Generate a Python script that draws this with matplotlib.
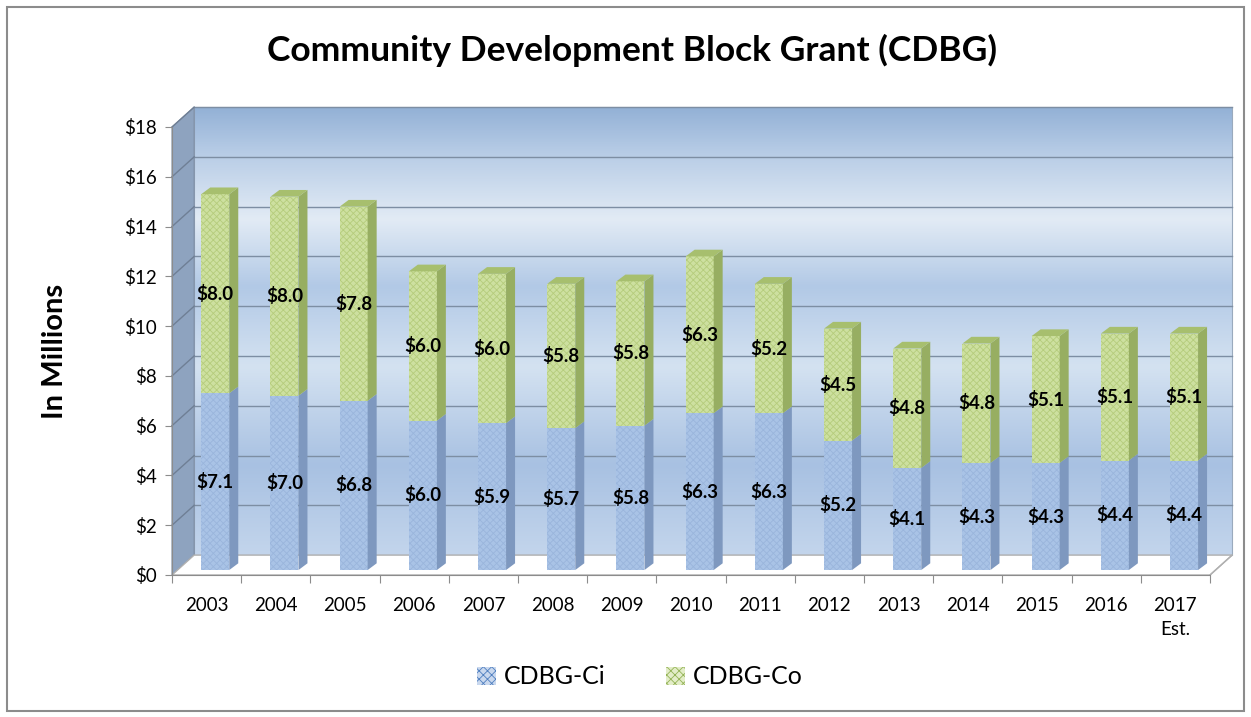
import matplotlib.pyplot as plt
import matplotlib.patches as mpatches
from matplotlib.colors import LinearSegmentedColormap
import numpy as np

plt.rcParams['font.family'] = ['Lato', 'DejaVu Sans']
plt.rcParams['hatch.linewidth'] = 0.6

# data (in millions)
years = ["2003", "2004", "2005", "2006", "2007", "2008", "2009", "2010",
         "2011", "2012", "2013", "2014", "2015", "2016", "2017\nEst."]
ci = [7.1, 7.0, 6.8, 6.0, 5.9, 5.7, 5.8, 6.3, 6.3, 5.2, 4.1, 4.3, 4.3, 4.4, 4.4]
co = [8.0, 8.0, 7.8, 6.0, 6.0, 5.8, 5.8, 6.3, 5.2, 4.5, 4.8, 4.8, 5.1, 5.1, 5.1]
yticks = [0, 2, 4, 6, 8, 10, 12, 14, 16, 18]

n = len(years)
W, H = 1251, 717
fig = plt.figure(figsize=(W / 100, H / 100), dpi=100)
fig.patches.append(mpatches.Rectangle((7 / W, 6 / H), 1 - 14 / W, 1 - 13 / H,
                                      transform=fig.transFigure, fill=False,
                                      edgecolor='#8c8c8c', linewidth=1.5))

ax = fig.add_axes([172 / W, (H - 575) / H, (1210 - 172) / W, (575 - 127) / H])
ax.set_xlim(-0.5, n - 0.5)
ax.set_ylim(0, 18)

# fake 3D offsets (data units)
dxw, dyw = 0.32, 0.8      # back wall
xs, ys = 0.125, 0.2       # bar front face shift
bw = 0.405                # bar width
dxb, dyb = 0.13, 0.27     # bar depth

# back wall gradient
grad = LinearSegmentedColormap.from_list('wall', [
    (0.0, '#c3d5ec'), (0.2, '#a8c1e2'), (0.42, '#d4e2f1'), (0.6, '#b2c9e6'),
    (0.75, '#e2ebf5'), (0.9, '#b7cce6'), (1.0, '#93b1d6')])
g = np.linspace(0, 1, 256).reshape(-1, 1)
ax.imshow(g, cmap=grad, aspect='auto', origin='lower', clip_on=False,
          extent=(-0.5 + dxw, n - 0.5 + dxw, dyw, 18 + dyw), zorder=0)
ax.add_patch(mpatches.Rectangle((-0.5 + dxw, dyw), n, 18, fill=False,
                                edgecolor='#9aaabd', lw=0.8, clip_on=False, zorder=0.5))

# side wall
ax.add_patch(mpatches.Polygon([(-0.5, 0), (-0.5, 18), (-0.5 + dxw, 18 + dyw), (-0.5 + dxw, dyw)],
                              closed=True, facecolor='#8ea3bf', edgecolor='#7f8fa5',
                              lw=0.8, clip_on=False, zorder=0.6))
# floor
ax.add_patch(mpatches.Polygon([(-0.5, 0), (n - 0.5, 0), (n - 0.5 + dxw, dyw), (-0.5 + dxw, dyw)],
                              closed=True, facecolor='white', edgecolor='#b0b0b0',
                              lw=1.0, clip_on=False, zorder=0.6))

# gridlines on back and side walls
for v in yticks[1:]:
    ax.plot([-0.5 + dxw, n - 0.5 + dxw], [v + dyw, v + dyw], color='#7d8ea3', lw=1.0,
            clip_on=False, zorder=0.7)
    ax.plot([-0.5, -0.5 + dxw], [v, v + dyw], color='#6f7f95', lw=1.0,
            clip_on=False, zorder=0.7)


def bar3d(x0, y0, h, front, hatchc, side):
    x1 = x0 + bw
    ax.bar(x0, h, bw, bottom=y0, align='edge', facecolor=front, edgecolor=hatchc,
           hatch='xxxxx', linewidth=0, zorder=2)
    ax.add_patch(mpatches.Polygon([(x1, y0), (x1, y0 + h), (x1 + dxb, y0 + h + dyb), (x1 + dxb, y0 + dyb)],
                                  closed=True, facecolor=side, edgecolor='none', zorder=2))


for i in range(n):
    x0 = i - bw / 2 + xs
    bar3d(x0, ys, ci[i], '#a9c3e6', '#9ab5dc', '#7e98bf')
    bar3d(x0, ys + ci[i], co[i], '#cde0a0', '#b5cc7c', '#97ae62')
    t = ys + ci[i] + co[i]
    ax.add_patch(mpatches.Polygon([(x0, t), (x0 + dxb, t + dyb), (x0 + bw + dxb, t + dyb), (x0 + bw, t)],
                                  closed=True, facecolor='#a7bf6e', edgecolor='none', zorder=2))
    ax.text(i + xs, ys + ci[i] / 2, f"${ci[i]:.1f}", ha='center', va='center',
            fontsize=13.5, fontweight='bold', zorder=3)
    ax.text(i + xs, ys + ci[i] + co[i] / 2, f"${co[i]:.1f}", ha='center', va='center',
            fontsize=13.5, fontweight='bold', zorder=3)

# axes styling
for s in ['top', 'right']:
    ax.spines[s].set_visible(False)
ax.spines['left'].set_color('#8c8c8c')
ax.spines['bottom'].set_color('#8c8c8c')
ax.spines['left'].set_zorder(1)
ax.spines['bottom'].set_zorder(1)
ax.plot([n - 0.5, n - 0.5 + dxw], [0, dyw], color='#b0b0b0', lw=1.0, clip_on=False, zorder=0.8)

ax.set_yticks(yticks)
ax.set_yticklabels([f"${v}" for v in yticks], fontsize=13.5)
ax.tick_params(axis='y', length=5, color='#8c8c8c', pad=6)
ax.set_xticks(np.arange(-0.5, n, 1.0))
ax.set_xticklabels([])
ax.tick_params(axis='x', which='major', length=6, color='#8c8c8c')
ax.set_xticks(np.arange(n), minor=True)
ax.set_xticklabels(years, minor=True, fontsize=13.5, linespacing=1.45)
ax.tick_params(axis='x', which='minor', length=0, pad=16)
ax.set_ylabel("In Millions", fontsize=21, fontweight='bold', labelpad=40)

fig.text(632 / W, 1 - 50 / H, "Community Development Block Grant (CDBG)", ha='center', va='center',
         fontsize=25.5, fontweight='bold')

handles = [mpatches.Patch(facecolor='#c9d8ee', edgecolor='#4f7fc0', hatch='xxxx', lw=0, label='CDBG-Ci'),
           mpatches.Patch(facecolor='#e3edc8', edgecolor='#93b356', hatch='xxxx', lw=0, label='CDBG-Co')]
fig.legend(handles=handles, loc='center', bbox_to_anchor=(640 / W, 1 - 677 / H), ncol=2,
           frameon=False, fontsize=18, handlelength=0.75, handleheight=0.75,
           handletextpad=0.35, columnspacing=2.4)

fig.savefig("out.png", dpi=100)
